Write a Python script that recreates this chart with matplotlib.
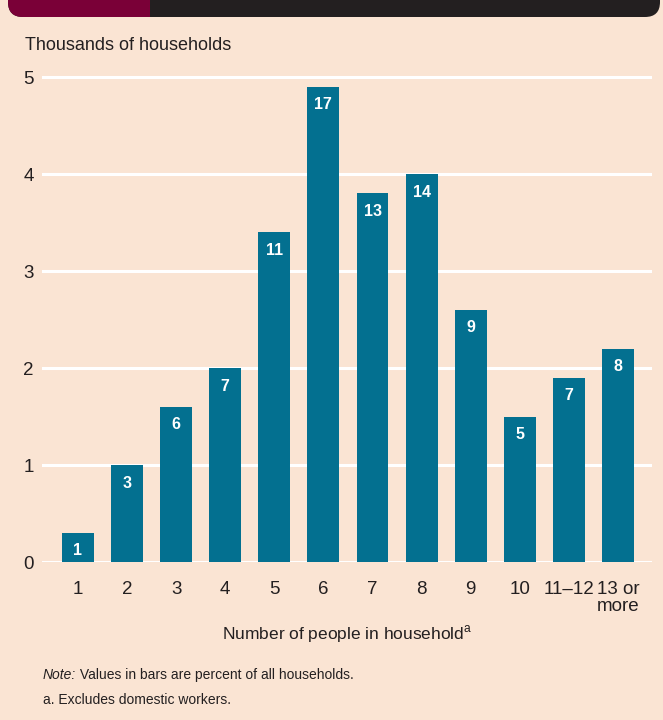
import matplotlib
matplotlib.use("Agg")
import matplotlib.pyplot as plt
from matplotlib.patches import FancyBboxPatch, Rectangle

FONT = "Liberation Sans"
plt.rcParams["font.family"] = [FONT, "DejaVu Sans"]
plt.rcParams["mathtext.fontset"] = "custom"
plt.rcParams["mathtext.rm"] = FONT

# data
categories = ["1", "2", "3", "4", "5", "6", "7", "8", "9", "10", "11\u201312", "13 or\nmore"]
households = [0.3, 1.0, 1.6, 2.0, 3.4, 4.9, 3.8, 4.0, 2.6, 1.5, 1.9, 2.2]
percent = [1, 3, 6, 7, 11, 17, 13, 14, 9, 5, 7, 8]

BG = "#FAE4D3"
BAR = "#037090"
TXT = "#231F20"

fig = plt.figure(figsize=(6.63, 7.2), dpi=100, facecolor=BG)

# banner at top, in pixel coords
over = fig.add_axes([0, 0, 1, 1], zorder=5)
over.set_xlim(0, 663)
over.set_ylim(720, 0)
over.axis("off")
over.add_patch(FancyBboxPatch((8, -40), 652, 57, boxstyle="round,pad=0,rounding_size=15",
                              fc=TXT, ec="none"))
over.add_patch(FancyBboxPatch((8, -40), 160, 57, boxstyle="round,pad=0,rounding_size=15",
                              fc="#7A0037", ec="none"))
over.add_patch(Rectangle((150, -40), 30, 57, fc=TXT, ec="none"))

ax = fig.add_axes([0.0633, 0.2194, 0.9201, 0.6871])
ax.set_facecolor(BG)
x = list(range(len(categories)))
ax.bar(x, households, width=0.65, color=BAR, zorder=3)
# percent labels inside the bars
for xi, h, p in zip(x, households, percent):
    ax.annotate(str(p), (xi, h), xytext=(0, -13), textcoords="offset points",
                ha="center", va="center", color="white", fontsize=11.5,
                fontweight="bold", zorder=4)

ax.set_xlim(-0.73, 11.69)
ax.set_ylim(0, 5.1)
ax.set_yticks([0, 1, 2, 3, 4, 5])
ax.grid(axis="y", color="white", linewidth=2.2, zorder=0)
ax.set_axisbelow(True)
for s in ax.spines.values():
    s.set_visible(False)
ax.tick_params(length=0, labelsize=13.5, labelcolor=TXT)
ax.tick_params(axis="y", pad=6)
ax.tick_params(axis="x", pad=14)
ax.set_xticks(x)
ax.set_xticklabels(categories, va="top", linespacing=0.95, multialignment="center")
ax.set_xlabel("Number of people in household$^{\\mathrm{a}}$", fontsize=12.5, color=TXT, labelpad=6)

fig.text(25 / 663, 1 - 46 / 720, "Thousands of households", fontsize=13, color=TXT, va="center")
note = fig.text(43 / 663, 1 - 675 / 720, "Note:", fontsize=10, color=TXT, style="italic", va="center")
ax.annotate(" Values in bars are percent of all households.", xy=(1, 0.5), xycoords=note,
            fontsize=10, color=TXT, va="center", ha="left", annotation_clip=False)
fig.text(43 / 663, 1 - 700 / 720, "a. Excludes domestic workers.", fontsize=10, color=TXT, va="center")

fig.savefig("out.png", dpi=100, facecolor=BG)
